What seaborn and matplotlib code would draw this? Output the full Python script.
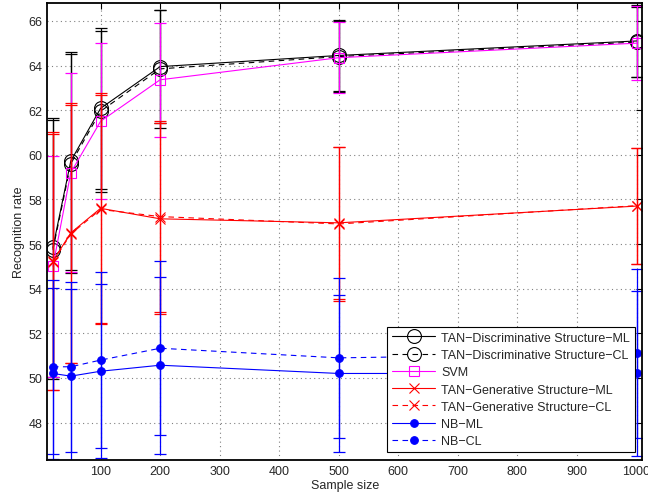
import pandas as pd
import matplotlib
matplotlib.use('Agg')
import matplotlib.pyplot as plt
import seaborn as sns

# Datos
tamanos = [20, 50, 100, 200, 500, 1000]

disc_ml = [55.85, 59.72, 62.08, 63.95, 64.45, 65.10]
disc_ml_err = [5.80, 4.88, 3.62, 2.53, 1.60, 1.60]
disc_cl = [55.75, 59.60, 61.95, 63.85, 64.40, 65.05]
disc_cl_err = [5.80, 4.90, 3.60, 2.65, 1.60, 1.55]
svm = [55.00, 59.20, 61.50, 63.36, 64.35, 65.00]
svm_err = [4.96, 4.46, 3.50, 2.55, 1.60, 1.65]
gen_ml = [55.24, 56.50, 57.60, 57.13, 56.95, 57.70]
gen_ml_err = [5.80, 5.83, 5.16, 4.28, 3.40, 2.60]
gen_cl = [55.20, 56.45, 57.55, 57.23, 56.90, 57.72]
gen_cl_err = [5.75, 5.80, 5.15, 4.27, 3.45, 2.60]
nb_ml = [50.20, 50.08, 50.30, 50.57, 50.20, 50.20]
nb_ml_err = [3.85, 3.90, 3.90, 3.96, 3.50, 3.70]
nb_cl = [50.50, 50.50, 50.80, 51.33, 50.90, 51.10]
nb_cl_err = [3.90, 3.80, 3.96, 3.90, 3.60, 3.80]

metodos = ['TAN\u2212Discriminative Structure\u2212ML',
           'TAN\u2212Discriminative Structure\u2212CL',
           'SVM',
           'TAN\u2212Generative Structure\u2212ML',
           'TAN\u2212Generative Structure\u2212CL',
           'NB\u2212ML',
           'NB\u2212CL']
valores = [disc_ml, disc_cl, svm, gen_ml, gen_cl, nb_ml, nb_cl]
errores = [disc_ml_err, disc_cl_err, svm_err, gen_ml_err, gen_cl_err, nb_ml_err, nb_cl_err]

# Estilo de cada serie (color, linea, marcador, tamano, relleno)
estilos = [
    ('black', '-', 'o', 10, 'none'),
    ('black', (0, (5, 4)), 'o', 10, 'none'),
    ('#ff00ff', '-', 's', 7, 'none'),
    ('#ff0000', '-', 'x', 7, None),
    ('#ff0000', (0, (5, 4)), 'x', 7, None),
    ('#0000ff', '-', 'o', 5.5, None),
    ('#0000ff', (0, (5, 4)), 'o', 5.5, None),
]

df = pd.DataFrame({
    'Tamano': tamanos * len(metodos),
    'Tasa': [v for serie in valores for v in serie],
    'Error': [e for serie in errores for e in serie],
    'Metodo': [m for m in metodos for _ in tamanos],
})

sns.set_style('white')
plt.rcParams['font.family'] = ['Liberation Sans', 'DejaVu Sans']
plt.rcParams['font.size'] = 9

fig = plt.figure(figsize=(6.48, 5.02), dpi=100)
ax = fig.add_axes([0.0725, 0.082, 0.919, 0.910])

for i, (metodo, (color, ls, mk, ms, mfc)) in enumerate(zip(metodos, estilos)):
    sub = df[df['Metodo'] == metodo]
    ax.errorbar(sub['Tamano'], sub['Tasa'], yerr=sub['Error'], fmt='none',
                ecolor=color, elinewidth=0.9, capsize=4.5, capthick=0.9,
                zorder=2 + i)
    kw = dict(markerfacecolor=mfc) if mfc else dict(markerfacecolor=color)
    sns.lineplot(data=sub, x='Tamano', y='Tasa', ax=ax, color=color,
                 linestyle=ls, marker=mk, markersize=ms, linewidth=0.8,
                 markeredgecolor=color, markeredgewidth=0.8, label=metodo,
                 zorder=2 + i, **kw)

ax.set_xlim(10, 1010)
ax.set_ylim(46.33, 66.8)
ax.set_xticks(range(100, 1001, 100))
ax.set_yticks(range(48, 67, 2))
ax.grid(True, color='0.5', linestyle=(0, (1, 3)), linewidth=0.8)
ax.tick_params(direction='in', length=4, top=True, right=True,
               labelsize=9, color='black', width=0.8)
for lado in ax.spines.values():
    lado.set_color('black')
    lado.set_linewidth(1.3)
    lado.set_zorder(30)
ax.set_xlabel('Sample size', fontsize=9, labelpad=2)
ax.set_ylabel('Recognition rate', fontsize=9, labelpad=2)

leg = ax.legend(loc='lower right', fontsize=9, handlelength=3.4,
                handletextpad=0.5, labelspacing=0.42, borderpad=0.4,
                borderaxespad=0.6, fancybox=False, framealpha=1)
leg.get_frame().set_edgecolor('black')
leg.get_frame().set_linewidth(0.8)
leg.set_zorder(20)

fig.savefig('out.png', dpi=100)
